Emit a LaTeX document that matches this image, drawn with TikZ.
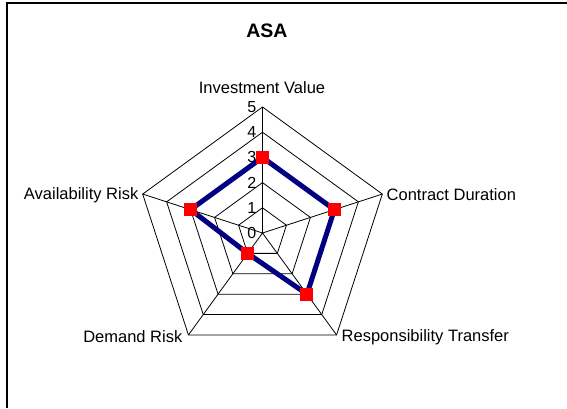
\documentclass[tikz,border=0pt]{standalone}
\usepackage{fontspec}
\setmainfont{Liberation Sans}
\usepackage{tikz}
\usetikzlibrary{calc,positioning}
\definecolor{seriesnavy}{RGB}{0,0,128}

\begin{document}
\begin{tikzpicture}[x=1pt,y=1pt,
  webline/.style={draw=black, line width=0.8pt},
  axislabel/.style={font=\fontsize{16.5}{19}\selectfont, inner sep=1pt},
  ticklabel/.style={font=\fontsize{16}{19}\selectfont, anchor=east, inner sep=0pt},
  datamark/.style={rectangle, fill=red, minimum size=13pt, inner sep=0pt},
  dataline/.style={draw=seriesnavy, line width=5pt, line join=miter}]
\useasboundingbox (-262.5,-175) rectangle (304.5,233);
\draw[line width=1.2pt] (-255.5,-175) -- (-255.5,230) -- (304.5,230);
\node[font=\bfseries\fontsize{19.5}{22}\selectfont] (title) at (4.5,202) {ASA};
% axes of the web
\coordinate (c) at (0,0);
\coordinate (iv) at (90:126);
\coordinate (cd) at (18:126);
\coordinate (rt) at (-54:126);
\coordinate (dr) at (-126:126);
\coordinate (ar) at (162:126);
\foreach \r in {25.2,50.4,75.6,100.8,126}
  \draw[webline] (90:\r) -- (18:\r) -- (-54:\r) -- (-126:\r) -- (162:\r) -- cycle;
\draw[webline] (c) -- (iv) (c) -- (cd) (c) -- (rt) (c) -- (dr) (c) -- (ar);
\foreach \v in {0,...,5}
  \node[ticklabel] (tick\v) at (-6,\v*25.2) {\v};
\node[axislabel] (liv) at (-0.5,145) {Investment Value};
\node[axislabel, anchor=east] (lar) at (-123,38) {Availability Risk};
\node[axislabel, anchor=west] (lcd) at (123,38) {Contract Duration};
\node[axislabel, anchor=east] (ldr) at (-79,-104) {Demand Risk};
\node[axislabel, anchor=west] (lrt) at (78,-104) {Responsibility Transfer};
% series
\coordinate (piv) at (90:75.6);
\coordinate (pcd) at (18:75.6);
\coordinate (prt) at (-54:75.6);
\coordinate (pdr) at (-126:25.2);
\coordinate (par) at (162:75.6);
\draw[dataline] (piv) -- (pcd) -- (prt) -- (pdr) -- (par) -- cycle;
\node[datamark] (miv) at (piv) {};
\node[datamark] (mcd) at (pcd) {};
\node[datamark] (mrt) at (prt) {};
\node[datamark] (mdr) at (pdr) {};
\node[datamark] (mar) at (par) {};
\end{tikzpicture}
\end{document}
